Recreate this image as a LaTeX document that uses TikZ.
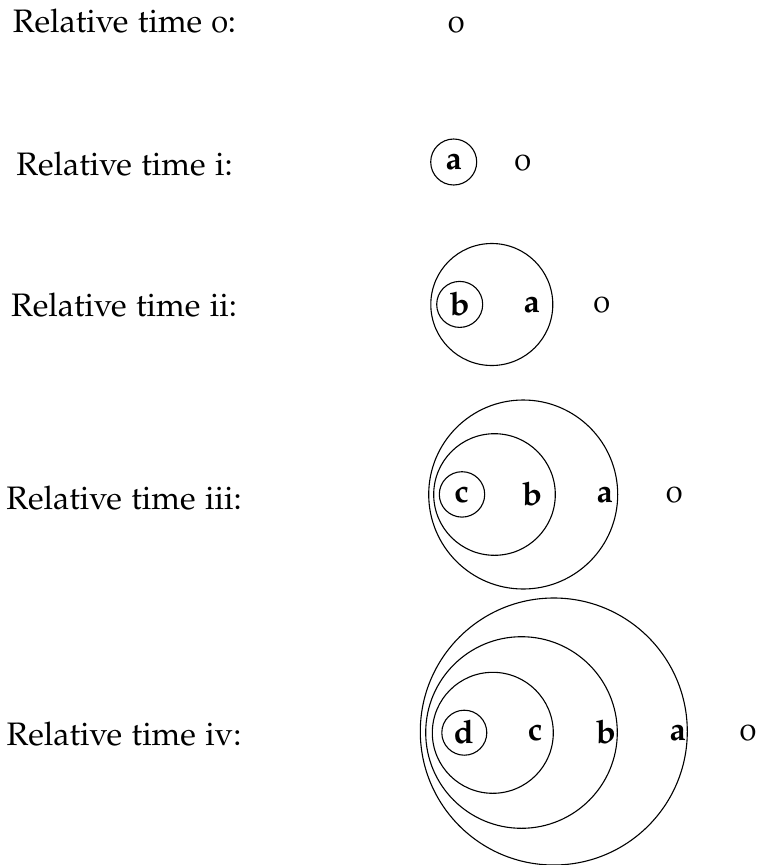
\documentclass[tikz,border=0pt]{standalone}
\usepackage[T1]{fontenc}
\usepackage[osf]{mathpazo}
\tikzset{
  every node/.style={font=\fontsize{32.5}{39}\selectfont},
  ring/.style={circle,draw,line width=1.1pt,inner sep=0pt,minimum size=#1},
  lbl/.style={anchor=base,inner sep=0pt},
  leaf/.style={inner sep=0pt,font=\fontsize{32.5}{39}\selectfont\bfseries},
}
\begin{document}
\begin{tikzpicture}[x=1pt,y=-1pt]
\useasboundingbox (0,0) rectangle (756,865);

% row labels
\node[lbl] (L0) at (124.5,32.3) {Relative time 0:};
\node[lbl] (L1) at (124.5,175) {Relative time i:};
\node[lbl] (L2) at (124,316.7) {Relative time ii:};
\node[lbl] (L3) at (124,509) {Relative time iii:};
\node[lbl] (L4) at (124,745) {Relative time iv:};

% time 0
\node (z0) at (456.3,24.5) {0};

% time i
\node[ring=46pt] (r1a) at (453.7,162) {};
\node[leaf] (t1a) at (453.7,162) {a};
\node (z1) at (522.7,162.5) {0};

% time ii
\node[ring=122pt] (r2a) at (491.8,304.5) {};
\node[ring=46pt] (r2b) at (459.7,304.4) {};
\node[leaf] (t2b) at (459.7,304.4) {b};
\node[leaf] (t2a) at (531.8,304.5) {a};
\node (z2) at (601.8,304.5) {0};

% time iii
\node[ring=189pt] (r3a) at (523.2,494.5) {};
\node[ring=121.6pt] (r3b) at (494.5,494.5) {};
\node[ring=45.4pt] (r3c) at (462,494.4) {};
\node[leaf] (t3c) at (461.7,494.4) {c};
\node[leaf] (t3b) at (532.3,494.5) {b};
\node[leaf] (t3a) at (604.7,494.5) {a};
\node (z3) at (674.2,494.5) {0};

% time iv
\node[ring=267pt] (r4a) at (553.8,731.5) {};
\node[ring=191.6pt] (r4b) at (521.5,732.5) {};
\node[ring=121pt] (r4c) at (492.8,732.8) {};
\node[ring=45pt] (r4d) at (464.3,732.7) {};
\node[leaf] (t4d) at (463.8,732.7) {d};
\node[leaf] (t4c) at (535,732.7) {c};
\node[leaf] (t4b) at (606,732.7) {b};
\node[leaf] (t4a) at (677.7,732.7) {a};
\node (z4) at (748,732.7) {0};
\end{tikzpicture}
\end{document}
